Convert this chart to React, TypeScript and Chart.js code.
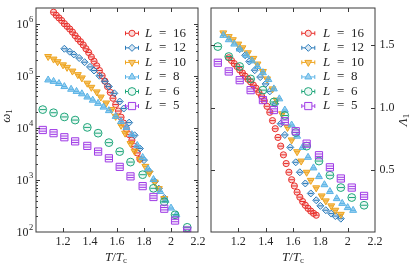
import React, { useEffect, useRef } from "react";
import { Chart, registerables } from "chart.js";

Chart.register(...registerables);

const SERIF = '"Liberation Serif", "DejaVu Serif", "Times New Roman", serif';
const INK = "#262626";
const FRAME = "#3a3a3a";

// ---------- data ----------
const T16 = [1.13, 1.15, 1.17, 1.19, 1.21, 1.23, 1.25, 1.27, 1.29, 1.31, 1.33, 1.35, 1.37, 1.39, 1.41, 1.43, 1.45, 1.47, 1.49, 1.51, 1.53, 1.55, 1.57, 1.59, 1.61, 1.63, 1.65, 1.67, 1.69, 1.71, 1.73, 1.75, 1.77];
const W16 = [1.66e6, 1.45e6, 1.29e6, 1.15e6, 1.0e6, 8.9e5, 7.9e5, 6.9e5, 5.9e5, 5.1e5, 4.5e5, 3.9e5, 3.3e5, 2.8e5, 2.3e5, 1.9e5, 1.55e5, 1.26e5, 1.0e5, 7.9e4, 6.2e4, 4.8e4, 3.7e4, 2.8e4, 2.1e4, 1.6e4, 1.23e4, 9.5e3, 7.4e3, 5.8e3, 4.4e3, 3.3e3, 2.5e3];
const A16 = [1.40, 1.378, 1.353, 1.33, 1.302, 1.278, 1.252, 1.228, 1.206, 1.18, 1.155, 1.123, 1.092, 1.055, 1.01, 0.962, 0.895, 0.83, 0.76, 0.69, 0.62, 0.55, 0.48, 0.42, 0.37, 0.32, 0.28, 0.245, 0.215, 0.19, 0.168, 0.15, 0.135];

const T12 = [1.21, 1.25, 1.28, 1.32, 1.36, 1.40, 1.43, 1.47, 1.51, 1.54, 1.58, 1.62, 1.65, 1.69, 1.73, 1.77, 1.80, 1.84, 1.88, 1.91, 1.95];
const W12 = [3.3e5, 2.9e5, 2.57e5, 2.19e5, 1.82e5, 1.48e5, 1.26e5, 1.0e5, 7.8e4, 6.2e4, 4.6e4, 3.2e4, 2.35e4, 1.26e4, 7.2e3, 4.0e3, 2.4e3, 1.45e3, 930, 680, 450];
const A12 = [1.47, 1.42, 1.37, 1.30, 1.245, 1.19, 1.13, 1.03, 0.87, 0.78, 0.68, 0.56, 0.48, 0.39, 0.31, 0.255, 0.21, 0.175, 0.148, 0.128, 0.107];

const T10 = [1.09, 1.13, 1.16, 1.20, 1.23, 1.27, 1.31, 1.34, 1.38, 1.41, 1.45, 1.48, 1.52, 1.56, 1.59, 1.63, 1.66, 1.70, 1.73, 1.77, 1.81, 1.84, 1.88, 1.91, 1.95];
const W10 = [2.34e5, 2.09e5, 1.86e5, 1.62e5, 1.45e5, 1.23e5, 1.05e5, 9.1e4, 7.2e4, 6.0e4, 4.9e4, 3.9e4, 3.0e4, 2.24e4, 1.66e4, 1.12e4, 7.9e3, 5.0e3, 3.55e3, 2.5e3, 1.82e3, 1.35e3, 910, 680, 440];
const A10 = [1.60, 1.57, 1.545, 1.51, 1.48, 1.44, 1.395, 1.35, 1.29, 1.23, 1.15, 1.06, 0.95, 0.84, 0.74, 0.645, 0.57, 0.48, 0.415, 0.355, 0.29, 0.25, 0.21, 0.175, 0.142];

const T8 = [1.09, 1.13, 1.17, 1.21, 1.26, 1.30, 1.34, 1.38, 1.42, 1.46, 1.50, 1.54, 1.59, 1.63, 1.67, 1.71, 1.75, 1.79, 1.83, 1.87, 1.92, 1.96, 2.00, 2.04];
const W8 = [8.3e4, 7.8e4, 7.1e4, 6.2e4, 5.5e4, 5.0e4, 4.5e4, 3.9e4, 3.4e4, 2.95e4, 2.5e4, 2.14e4, 1.66e4, 1.32e4, 1.02e4, 7.4e3, 4.6e3, 2.7e3, 1.62e3, 1.02e3, 600, 407, 288, 214];
const A8 = [1.58, 1.545, 1.51, 1.47, 1.42, 1.375, 1.33, 1.28, 1.225, 1.15, 1.07, 0.98, 0.86, 0.77, 0.68, 0.60, 0.515, 0.445, 0.38, 0.325, 0.268, 0.23, 0.196, 0.174];

const T6 = [1.05, 1.13, 1.21, 1.29, 1.38, 1.46, 1.54, 1.62, 1.70, 1.79, 1.87, 1.95, 2.03, 2.12];
const W6 = [2.24e4, 1.95e4, 1.62e4, 1.41e4, 1.02e4, 7.9e3, 5.2e3, 3.5e3, 2.2e3, 1.26e3, 690, 380, 214, 123];
const A6 = [1.49, 1.41, 1.33, 1.23, 1.14, 1.045, 0.936, 0.80, 0.69, 0.57, 0.456, 0.357, 0.277, 0.215];

const T5 = [1.05, 1.13, 1.21, 1.29, 1.38, 1.46, 1.54, 1.62, 1.70, 1.79, 1.87, 1.95, 2.03, 2.12];
const W5 = [9.1e3, 7.9e3, 6.6e3, 5.5e3, 4.5e3, 3.5e3, 2.6e3, 1.78e3, 1.17e3, 760, 470, 280, 166, 107];
const A5 = [1.36, 1.29, 1.22, 1.14, 1.06, 0.98, 0.89, 0.81, 0.71, 0.617, 0.52, 0.43, 0.357, 0.29];

const SIZES = ["16", "12", "10", "8", "6", "5"];

const X_TICKS = [1.2, 1.4, 1.6, 1.8, 2.0, 2.2];
const X_TICK_LABELS = ["1.2", "1.4", "1.6", "1.8", "2", "2.2"];
const Y_LOG_EXPONENTS = [2, 3, 4, 5, 6];
const Y_LIN_TICKS = [0.5, 1.0, 1.5];
const Y_LIN_LABELS = ["0.5", "1.0", "1.5"];

// ---------- styles ----------
type Series = {
  size: string; color: string; fill: string; style: string; rot: number; r: number;
  caps: number[]; capHalf: number; t: number[]; w: number[]; a: number[];
};

const SERIES: Series[] = [
  { size: SIZES[0], color: "#e8302c", fill: "rgba(232,48,44,0.18)", style: "circle", rot: 0, r: 3.1, caps: [0], capHalf: 2.6, t: T16, w: W16, a: A16 },
  { size: SIZES[1], color: "#2b7bba", fill: "rgba(43,123,186,0.18)", style: "rectRot", rot: 0, r: 3.5, caps: [0], capHalf: 2.6, t: T12, w: W12, a: A12 },
  { size: SIZES[2], color: "#eea41e", fill: "rgba(238,164,30,0.6)", style: "triangle", rot: 180, r: 4.0, caps: [0], capHalf: 2.6, t: T10, w: W10, a: A10 },
  { size: SIZES[3], color: "#5ab3e6", fill: "rgba(90,179,230,0.6)", style: "triangle", rot: 0, r: 4.0, caps: [0], capHalf: 2.6, t: T8, w: W8, a: A8 },
  { size: SIZES[4], color: "#1fa67a", fill: "rgba(31,166,122,0.08)", style: "circle", rot: 0, r: 3.9, caps: [0], capHalf: 3.2, t: T6, w: W6, a: A6 },
  { size: SIZES[5], color: "#a03ce6", fill: "rgba(160,60,230,0.08)", style: "rect", rot: 0, r: 5.1, caps: [-1.2, 1.2], capHalf: 3.3, t: T5, w: W5, a: A5 },
];

function buildDatasets(which: "w" | "a") {
  return SERIES.map((s, i) => ({
    label: "L = " + s.size,
    data: s.t.map((t, j) => ({ x: t, y: s[which][j] })),
    showLine: false,
    pointStyle: s.style,
    pointRotation: s.rot,
    pointRadius: s.r,
    pointHoverRadius: s.r,
    pointBorderWidth: 1,
    borderWidth: 1,
    borderColor: s.color,
    backgroundColor: s.fill,
    order: SERIES.length - i,
    capOffsets: s.caps,
    capHalf: s.capHalf,
  }));
}

// ---------- drawing helpers ----------
function markerPath(ctx: CanvasRenderingContext2D, style: string, x: number, y: number, r: number, rot: number) {
  ctx.beginPath();
  if (style === "circle") {
    ctx.arc(x, y, r, 0, Math.PI * 2);
  } else if (style === "rect") {
    const s = r * Math.SQRT1_2;
    ctx.rect(x - s, y - s, 2 * s, 2 * s);
  } else if (style === "rectRot") {
    ctx.moveTo(x - r, y);
    ctx.lineTo(x, y - r);
    ctx.lineTo(x + r, y);
    ctx.lineTo(x, y + r);
    ctx.closePath();
  } else {
    let a = (rot * Math.PI) / 180;
    for (let k = 0; k < 3; k++) {
      const px = x + Math.sin(a) * r;
      const py = y - Math.cos(a) * r;
      if (k === 0) ctx.moveTo(px, py);
      else ctx.lineTo(px, py);
      a += (2 * Math.PI) / 3;
    }
    ctx.closePath();
  }
}

function drawPieces(ctx: CanvasRenderingContext2D, pieces: { t: string; f: string; dy: number }[], cx: number, cy: number) {
  let total = 0;
  for (const p of pieces) {
    ctx.font = p.f;
    total += ctx.measureText(p.t).width;
  }
  let x = cx - total / 2;
  ctx.textAlign = "left";
  ctx.textBaseline = "middle";
  for (const p of pieces) {
    ctx.font = p.f;
    ctx.fillText(p.t, x, cy + p.dy);
    x += ctx.measureText(p.t).width;
  }
}

const capsPlugin = {
  id: "caps",
  afterDatasetDraw(chart: any, args: any) {
    const ds: any = chart.data.datasets[args.index];
    const ctx: CanvasRenderingContext2D = chart.ctx;
    ctx.save();
    ctx.strokeStyle = ds.borderColor;
    ctx.lineWidth = 1;
    ctx.beginPath();
    for (const el of args.meta.data) {
      for (const o of ds.capOffsets) {
        ctx.moveTo(el.x - ds.capHalf, el.y + o);
        ctx.lineTo(el.x + ds.capHalf, el.y + o);
      }
    }
    ctx.stroke();
    ctx.restore();
  },
};

function drawXAxis(chart: any, titleCx: number) {
  const ctx: CanvasRenderingContext2D = chart.ctx;
  const a = chart.chartArea;
  const xs = chart.scales.x;
  ctx.save();
  ctx.strokeStyle = FRAME;
  ctx.lineWidth = 1;
  ctx.strokeRect(a.left, a.top, a.right - a.left, a.bottom - a.top);
  ctx.beginPath();
  X_TICKS.forEach((v) => {
    const px = Math.round(xs.getPixelForValue(v)) + 0.5;
    if (px > a.right - 1) return;
    ctx.moveTo(px, a.bottom);
    ctx.lineTo(px, a.bottom - 4);
    ctx.moveTo(px, a.top);
    ctx.lineTo(px, a.top + 4);
  });
  ctx.stroke();
  ctx.fillStyle = INK;
  ctx.font = `12px ${SERIF}`;
  ctx.textAlign = "center";
  ctx.textBaseline = "middle";
  X_TICKS.forEach((v, i) => {
    ctx.fillText(X_TICK_LABELS[i], xs.getPixelForValue(v), a.bottom + 10);
  });
  drawPieces(
    ctx,
    [
      { t: "T", f: `italic 13px ${SERIF}`, dy: 0 },
      { t: "/", f: `13px ${SERIF}`, dy: 0 },
      { t: "T", f: `italic 13px ${SERIF}`, dy: 0 },
      { t: "c", f: `9px ${SERIF}`, dy: 3 },
    ],
    titleCx,
    a.bottom + 26
  );
  ctx.restore();
}

function drawLegend(chart: any, markerX: number, textX: number) {
  const ctx: CanvasRenderingContext2D = chart.ctx;
  ctx.save();
  SERIES.forEach((s, i) => {
    const y = 33.3 + i * 14.55;
    ctx.strokeStyle = s.color;
    ctx.lineWidth = 1;
    ctx.beginPath();
    ctx.moveTo(markerX - 6.5, y);
    ctx.lineTo(markerX + 6.5, y);
    ctx.moveTo(markerX - 6.5, y - 2);
    ctx.lineTo(markerX - 6.5, y + 2);
    ctx.moveTo(markerX + 6.5, y - 2);
    ctx.lineTo(markerX + 6.5, y + 2);
    ctx.stroke();
    markerPath(ctx, s.style, markerX, y, s.r, s.rot);
    ctx.fillStyle = "#ffffff";
    ctx.fill();
    ctx.fillStyle = s.fill;
    ctx.fill();
    ctx.stroke();
    ctx.fillStyle = INK;
    ctx.textAlign = "left";
    ctx.textBaseline = "middle";
    ctx.font = `italic 13px ${SERIF}`;
    ctx.fillText("L", textX, y);
    ctx.font = `13px ${SERIF}`;
    ctx.fillText("=", textX + 14, y);
    ctx.fillText(s.size, textX + 28, y);
  });
  ctx.restore();
}

const leftPlugin = {
  id: "leftFrame",
  afterDraw(chart: any) {
    const ctx: CanvasRenderingContext2D = chart.ctx;
    const a = chart.chartArea;
    const ys = chart.scales.y;
    drawXAxis(chart, (a.left + a.right) / 2 - 1);
    ctx.save();
    ctx.strokeStyle = FRAME;
    ctx.lineWidth = 1;
    ctx.beginPath();
    Y_LOG_EXPONENTS.forEach((e) => {
      for (let m = 1; m <= 9; m++) {
        const v = m * Math.pow(10, e);
        if (v <= ys.min || v >= ys.max) continue;
        const py = Math.round(ys.getPixelForValue(v)) + 0.5;
        const len = m === 1 ? 4 : 2;
        ctx.moveTo(a.left, py);
        ctx.lineTo(a.left + len, py);
        ctx.moveTo(a.right, py);
        ctx.lineTo(a.right - len, py);
      }
    });
    ctx.stroke();
    ctx.fillStyle = INK;
    Y_LOG_EXPONENTS.forEach((e) => {
      const py = ys.getPixelForValue(Math.pow(10, e));
      ctx.textBaseline = "middle";
      ctx.textAlign = "right";
      ctx.font = `12px ${SERIF}`;
      ctx.fillText("10", a.left - 7.5, py + 1);
      ctx.textAlign = "left";
      ctx.font = `8.5px ${SERIF}`;
      ctx.fillText(String(e), a.left - 7, py - 4);
    });
    ctx.translate(7, (a.top + a.bottom) / 2 - 4);
    ctx.rotate(-Math.PI / 2);
    drawPieces(
      ctx,
      [
        { t: "ω", f: `italic 13px ${SERIF}`, dy: 0 },
        { t: "1", f: `9px ${SERIF}`, dy: 3 },
      ],
      0,
      0
    );
    ctx.restore();
    drawLegend(chart, 132, 145);
  },
};

const rightPlugin = {
  id: "rightFrame",
  afterDraw(chart: any) {
    const ctx: CanvasRenderingContext2D = chart.ctx;
    const a = chart.chartArea;
    const ys = chart.scales.y;
    drawXAxis(chart, (a.left + a.right) / 2);
    ctx.save();
    ctx.strokeStyle = FRAME;
    ctx.lineWidth = 1;
    ctx.beginPath();
    Y_LIN_TICKS.forEach((v) => {
      const py = Math.round(ys.getPixelForValue(v)) + 0.5;
      ctx.moveTo(a.left, py);
      ctx.lineTo(a.left + 4, py);
      ctx.moveTo(a.right, py);
      ctx.lineTo(a.right - 4, py);
    });
    ctx.stroke();
    ctx.fillStyle = INK;
    ctx.font = `12px ${SERIF}`;
    ctx.textAlign = "left";
    ctx.textBaseline = "middle";
    Y_LIN_TICKS.forEach((v, i) => {
      ctx.fillText(Y_LIN_LABELS[i], a.right + 4.5, ys.getPixelForValue(v));
    });
    ctx.translate(a.right + 29, (a.top + a.bottom) / 2);
    ctx.rotate(-Math.PI / 2);
    drawPieces(
      ctx,
      [
        { t: "Λ", f: `italic 13px ${SERIF}`, dy: 0 },
        { t: "1", f: `9px ${SERIF}`, dy: 3 },
      ],
      0,
      0
    );
    ctx.restore();
    drawLegend(chart, 108.3, 123);
  },
};

function baseScales(yCfg: any, xAfterFit: number, yWidth: number) {
  return {
    x: {
      type: "linear",
      min: 1.0,
      max: 2.2,
      grid: { display: false },
      border: { display: false },
      ticks: { display: false },
      afterFit: (s: any) => { s.height = xAfterFit; },
    },
    y: {
      ...yCfg,
      grid: { display: false },
      border: { display: false },
      ticks: { display: false },
      afterFit: (s: any) => { s.width = yWidth; },
    },
  };
}

export default function App() {
  const leftRef = useRef<HTMLCanvasElement | null>(null);
  const rightRef = useRef<HTMLCanvasElement | null>(null);

  useEffect(() => {
    document.body.style.margin = "0";
    const left = new Chart(leftRef.current as HTMLCanvasElement, {
      type: "scatter",
      data: { datasets: buildDatasets("w") as any },
      options: {
        animation: false,
        responsive: false,
        maintainAspectRatio: false,
        events: [],
        layout: { autoPadding: false, padding: { left: 0, right: 17, top: 8, bottom: 0 } },
        plugins: { legend: { display: false }, tooltip: { enabled: false } },
        scales: baseScales({ type: "logarithmic", min: 100, max: 2e6, position: "left" }, 37, 36) as any,
      },
      plugins: [capsPlugin, leftPlugin],
    });
    const right = new Chart(rightRef.current as HTMLCanvasElement, {
      type: "scatter",
      data: { datasets: buildDatasets("a") as any },
      options: {
        animation: false,
        responsive: false,
        maintainAspectRatio: false,
        events: [],
        layout: { autoPadding: false, padding: { left: 11, right: 0, top: 8, bottom: 0 } },
        plugins: { legend: { display: false }, tooltip: { enabled: false } },
        scales: baseScales({ type: "linear", min: 0, max: 1.8, position: "right" }, 37, 40) as any,
      },
      plugins: [capsPlugin, rightPlugin],
    });
    return () => {
      left.destroy();
      right.destroy();
    };
  }, []);

  return (
    <div style={{ position: "relative", width: 415, height: 269, background: "#ffffff", overflow: "hidden" }}>
      <canvas ref={leftRef} width={215} height={269} style={{ position: "absolute", left: 0, top: 0, width: 215, height: 269 }} />
      <canvas ref={rightRef} width={215} height={269} style={{ position: "absolute", left: 200, top: 0, width: 215, height: 269 }} />
    </div>
  );
}
